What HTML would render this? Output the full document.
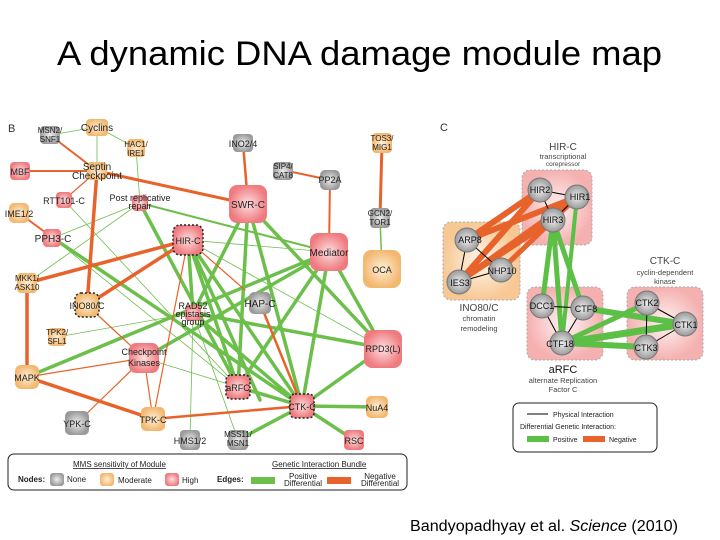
<!DOCTYPE html>
<html><head><meta charset="utf-8"><style>
html,body{margin:0;padding:0;background:#fff;width:720px;height:540px;overflow:hidden}
svg{display:block;font-family:"Liberation Sans",sans-serif}
</style></head><body>
<svg width="720" height="540" viewBox="0 0 720 540" xmlns="http://www.w3.org/2000/svg">
<defs>
<radialGradient id="gr"><stop offset="0" stop-color="#fde0e0"/><stop offset="1" stop-color="#ef7b80"/></radialGradient>
<radialGradient id="go"><stop offset="0" stop-color="#fdf0d8"/><stop offset="1" stop-color="#f3b870"/></radialGradient>
<radialGradient id="gg"><stop offset="0" stop-color="#eeeeee"/><stop offset="1" stop-color="#9a9a9a"/></radialGradient>
<radialGradient id="bp"><stop offset="0" stop-color="#fff4f4"/><stop offset="1" stop-color="#f5b0b0"/></radialGradient>
<radialGradient id="bo"><stop offset="0" stop-color="#fff8ee"/><stop offset="1" stop-color="#f7c894"/></radialGradient>
</defs>
<text x="57" y="65" font-size="34" textLength="605" lengthAdjust="spacingAndGlyphs" fill="#000">A dynamic DNA damage module map</text>
<text x="410" y="531" font-size="15.5" textLength="268" lengthAdjust="spacingAndGlyphs" fill="#000">Bandyopadhyay et al. <tspan font-style="italic">Science</tspan> (2010)</text>

<!-- Panel B edges -->
<g stroke-linecap="round" fill="none">
<g stroke="#6cbf4a" stroke-width="0.8">
<line x1="97" y1="127" x2="50" y2="135"/><line x1="97" y1="127" x2="136" y2="148"/><line x1="97" y1="127" x2="97" y2="171"/>
<line x1="136" y1="148" x2="140" y2="203"/><line x1="140" y1="203" x2="27" y2="283"/><line x1="140" y1="203" x2="53" y2="238"/>
<line x1="193" y1="313" x2="57" y2="337"/><line x1="193" y1="313" x2="190" y2="440"/><line x1="193" y1="313" x2="238" y2="440"/>
<line x1="188" y1="240" x2="383" y2="348"/><line x1="188" y1="240" x2="329" y2="252"/><line x1="144" y1="358" x2="238" y2="387"/>
<line x1="64" y1="200" x2="238" y2="387"/><line x1="53" y1="238" x2="238" y2="387"/>
<line x1="380" y1="218" x2="382" y2="269" stroke-width="1.5"/><line x1="248" y1="204" x2="383" y2="348"/>
</g>
<g stroke="#6cbf4a" stroke-width="3.5">
<line x1="140" y1="203" x2="238" y2="387"/><line x1="53" y1="238" x2="302" y2="406"/>
<line x1="140" y1="203" x2="329" y2="252" stroke-width="2"/>
<line x1="248" y1="204" x2="238" y2="387"/><line x1="248" y1="204" x2="302" y2="406"/><line x1="248" y1="204" x2="383" y2="348"/><line x1="248" y1="204" x2="193" y2="313"/>
<line x1="188" y1="240" x2="238" y2="387"/><line x1="188" y1="240" x2="302" y2="406"/><line x1="188" y1="240" x2="193" y2="313"/><line x1="188" y1="240" x2="260" y2="400"/>
<line x1="27" y1="377" x2="329" y2="252"/><line x1="144" y1="358" x2="329" y2="252"/>
<line x1="329" y1="252" x2="302" y2="406"/><line x1="329" y1="252" x2="238" y2="387"/><line x1="329" y1="252" x2="383" y2="348"/>
<line x1="383" y1="348" x2="302" y2="406"/><line x1="383" y1="348" x2="193" y2="313"/>
<line x1="302" y1="406" x2="377" y2="407"/><line x1="302" y1="406" x2="354" y2="440"/><line x1="302" y1="406" x2="238" y2="440"/><line x1="302" y1="406" x2="238" y2="387"/><line x1="302" y1="406" x2="193" y2="313"/>
</g>
<g stroke="#e8632c" stroke-width="1.2">
<line x1="50" y1="135" x2="97" y2="171" stroke-width="2"/><line x1="97" y1="171" x2="20" y2="171" stroke-width="2"/><line x1="97" y1="171" x2="64" y2="200"/>
<line x1="19" y1="213" x2="53" y2="238" stroke-width="2"/><line x1="87" y1="305" x2="144" y2="358"/>
<line x1="144" y1="358" x2="27" y2="377"/><line x1="144" y1="358" x2="77" y2="423"/><line x1="144" y1="358" x2="153" y2="419"/>
<line x1="153" y1="419" x2="188" y2="240"/><line x1="188" y1="240" x2="245" y2="290"/>
<line x1="283" y1="170" x2="330" y2="180" stroke-width="2"/><line x1="330" y1="180" x2="329" y2="252" stroke-width="2"/>
<line x1="243" y1="143" x2="248" y2="204" stroke-width="2.5"/><line x1="382" y1="143" x2="380" y2="218" stroke-width="3"/>
</g>
<g stroke="#e8632c" stroke-width="3.5">
<line x1="97" y1="171" x2="248" y2="204" stroke-width="3"/><line x1="97" y1="171" x2="87" y2="305"/>
<line x1="27" y1="283" x2="188" y2="240"/><line x1="87" y1="305" x2="188" y2="240"/><line x1="27" y1="283" x2="27" y2="377"/>
<line x1="27" y1="377" x2="153" y2="419"/><line x1="153" y1="419" x2="302" y2="406" stroke-width="2.5"/><line x1="260" y1="303" x2="302" y2="406" stroke-width="2.5"/>
</g>
</g>

<!-- Panel B nodes -->
<g font-size="9" text-anchor="middle" fill="#222">
<rect x="86" y="119" width="22" height="17" rx="4" fill="url(#go)"/><text x="97" y="131" font-size="10">Cyclins</text>
<rect x="40" y="126" width="20" height="18" rx="4" fill="url(#gg)"/><text x="50" y="133" font-size="8">MSN2/</text><text x="50" y="142" font-size="8">SNF1</text>
<rect x="127" y="139" width="18" height="18" rx="4" fill="url(#go)"/><text x="136" y="147" font-size="8">HAC1/</text><text x="136" y="156" font-size="8">IRE1</text>
<rect x="87" y="162" width="20" height="18" rx="4" fill="url(#go)"/><text x="97" y="170" font-size="10">Septin</text><text x="97" y="179" font-size="10">Checkpoint</text>
<rect x="10" y="162" width="20" height="18" rx="4" fill="url(#gr)"/><text x="20" y="175">MBF</text>
<rect x="56" y="192" width="16" height="16" rx="4" fill="url(#gr)"/><text x="64" y="204">RTT101-C</text>
<rect x="132" y="195" width="16" height="16" rx="4" fill="url(#gr)"/><text x="140" y="201">Post replicative</text><text x="140" y="209">repair</text>
<rect x="9" y="203" width="20" height="20" rx="5" fill="url(#go)"/><text x="19" y="217">IME1/2</text>
<rect x="43" y="229" width="18" height="18" rx="4" fill="url(#gr)"/><text x="53" y="242" font-size="10">PPH3-C</text>
<rect x="233" y="134" width="20" height="18" rx="4" fill="url(#gg)"/><text x="243" y="147">INO2/4</text>
<rect x="273" y="162" width="20" height="18" rx="4" fill="url(#gg)"/><text x="283" y="169" font-size="8">SIP4/</text><text x="283" y="178" font-size="8">CAT8</text>
<rect x="320" y="170" width="20" height="20" rx="5" fill="url(#gg)"/><text x="330" y="183">PP2A</text>
<rect x="372" y="133" width="20" height="20" rx="4" fill="url(#go)"/><text x="382" y="141" font-size="8">TOS3/</text><text x="382" y="150" font-size="8">MIG1</text>
<rect x="370" y="208" width="20" height="20" rx="4" fill="url(#gg)"/><text x="380" y="216" font-size="8">GCN2/</text><text x="380" y="225" font-size="8">TOR1</text>
<rect x="229" y="185" width="38" height="38" rx="8" fill="url(#gr)"/><text x="248" y="208" font-size="10">SWR-C</text>
<rect x="173" y="225" width="30" height="30" rx="7" fill="url(#gr)" stroke="#222" stroke-width="1.5" stroke-dasharray="2,2"/><text x="188" y="244">HIR-C</text>
<rect x="310" y="233" width="38" height="38" rx="8" fill="url(#gr)"/><text x="329" y="256" font-size="10">Mediator</text>
<rect x="363" y="250" width="38" height="38" rx="8" fill="url(#go)"/><text x="382" y="273">OCA</text>
<rect x="17" y="273" width="20" height="20" rx="4" fill="url(#go)"/><text x="27" y="281" font-size="8">MKK1/</text><text x="27" y="290" font-size="8">ASK10</text>
<rect x="75" y="293" width="24" height="24" rx="6" fill="url(#go)" stroke="#222" stroke-width="1.5" stroke-dasharray="2,2"/><text x="87" y="309">INO80/C</text>
<rect x="185" y="305" width="16" height="16" rx="4" fill="url(#gr)"/><text x="193" y="309">RAD52</text><text x="193" y="317">epistasis</text><text x="193" y="325">group</text>
<rect x="249" y="292" width="22" height="22" rx="5" fill="url(#gg)"/><text x="260" y="307" font-size="10">HAP-C</text>
<rect x="48" y="328" width="18" height="18" rx="4" fill="url(#go)"/><text x="57" y="335" font-size="8">TPK2/</text><text x="57" y="344" font-size="8">SFL1</text>
<rect x="364" y="330" width="38" height="38" rx="8" fill="url(#gr)"/><text x="383" y="352">RPD3(L)</text>
<rect x="129" y="343" width="30" height="30" rx="7" fill="url(#gr)"/><text x="144" y="355">Checkpoint</text><text x="144" y="366">Kinases</text>
<rect x="15" y="365" width="24" height="24" rx="6" fill="url(#go)"/><text x="27" y="381">MAPK</text>
<rect x="226" y="375" width="24" height="24" rx="5" fill="url(#gr)" stroke="#222" stroke-width="1.5" stroke-dasharray="2,2"/><text x="238" y="391">aRFC</text>
<rect x="290" y="394" width="24" height="24" rx="5" fill="url(#gr)" stroke="#222" stroke-width="1.5" stroke-dasharray="2,2"/><text x="302" y="410">CTK-C</text>
<rect x="366" y="396" width="22" height="22" rx="5" fill="url(#go)"/><text x="377" y="411">NuA4</text>
<rect x="65" y="411" width="24" height="24" rx="5" fill="url(#gg)"/><text x="77" y="427">YPK-C</text>
<rect x="141" y="407" width="24" height="24" rx="5" fill="url(#go)"/><text x="153" y="423">TPK-C</text>
<rect x="180" y="430" width="20" height="20" rx="4" fill="url(#gg)"/><text x="190" y="444">HMS1/2</text>
<rect x="228" y="430" width="20" height="20" rx="4" fill="url(#gg)"/><text x="238" y="437" font-size="8">MSS11/</text><text x="238" y="446" font-size="8">MSN1</text>
<rect x="344" y="430" width="20" height="20" rx="4" fill="url(#gr)"/><text x="354" y="444">RSC</text>
</g>
<text x="8" y="132" font-size="11" fill="#333">B</text>

<!-- Legend B -->
<rect x="8" y="454" width="399" height="36" rx="6" fill="#fff" stroke="#222" stroke-width="1"/>
<g font-size="8" fill="#222">
<text x="73" y="467" text-decoration="underline">MMS sensitivity of Module</text>
<text x="272" y="467" text-decoration="underline">Genetic Interaction Bundle</text>
<text x="18" y="482" font-weight="bold">Nodes:</text>
<rect x="50" y="473" width="14" height="13" rx="3" fill="url(#gg)"/><text x="67" y="482">None</text>
<rect x="100" y="473" width="14" height="13" rx="3" fill="url(#go)"/><text x="118" y="483">Moderate</text>
<rect x="165" y="473" width="14" height="13" rx="3" fill="url(#gr)"/><text x="182" y="483">High</text>
<text x="217" y="482" font-weight="bold">Edges:</text>
<rect x="251" y="477" width="24" height="7" fill="#6cbf4a"/><text x="303" y="479" text-anchor="middle">Positive</text><text x="303" y="486" text-anchor="middle">Differential</text>
<rect x="327" y="477" width="24" height="7" fill="#e8632c"/><text x="380" y="479" text-anchor="middle">Negative</text><text x="380" y="486" text-anchor="middle">Differential</text>
</g>

<!-- Panel C -->
<text x="440" y="131" font-size="11" fill="#333">C</text>
<rect x="522" y="170" width="70" height="75" rx="8" fill="url(#bp)" stroke="#aaa" stroke-dasharray="2,2"/>
<rect x="443" y="222" width="77" height="78" rx="8" fill="url(#bo)" stroke="#aaa" stroke-dasharray="2,2"/>
<rect x="527" y="287" width="76" height="73" rx="8" fill="url(#bp)" stroke="#aaa" stroke-dasharray="2,2"/>
<rect x="627" y="287" width="76" height="73" rx="8" fill="url(#bp)" stroke="#aaa" stroke-dasharray="2,2"/>
<g stroke="#e8632c" stroke-linecap="round">
<line x1="540" y1="190" x2="467" y2="240" stroke-width="6"/><line x1="540" y1="190" x2="459" y2="282" stroke-width="6"/>
<line x1="577" y1="197" x2="467" y2="240" stroke-width="6"/><line x1="577" y1="197" x2="459" y2="282" stroke-width="6"/><line x1="577" y1="197" x2="501" y2="270" stroke-width="5"/>
<line x1="553" y1="220" x2="459" y2="282" stroke-width="5"/><line x1="553" y1="220" x2="501" y2="270" stroke-width="5"/>
</g>
<g stroke="#5cbf46" stroke-linecap="round">
<line x1="553" y1="220" x2="542" y2="306" stroke-width="5"/><line x1="553" y1="220" x2="562" y2="343" stroke-width="5"/><line x1="553" y1="220" x2="583" y2="308" stroke-width="5"/>
<line x1="577" y1="197" x2="562" y2="343" stroke-width="4"/>
<line x1="583" y1="308" x2="685" y2="324" stroke-width="6"/><line x1="562" y1="343" x2="647" y2="303" stroke-width="5"/>
<line x1="562" y1="343" x2="685" y2="324" stroke-width="7"/><line x1="562" y1="343" x2="646" y2="347" stroke-width="6"/>
</g>
<g stroke="#000" stroke-width="1">
<line x1="540" y1="190" x2="577" y2="197"/><line x1="540" y1="190" x2="553" y2="220"/><line x1="577" y1="197" x2="553" y2="220"/>
<line x1="467" y1="240" x2="459" y2="282"/><line x1="467" y1="240" x2="501" y2="270"/><line x1="459" y1="282" x2="501" y2="270"/>
<line x1="542" y1="306" x2="583" y2="308"/><line x1="542" y1="306" x2="562" y2="343"/><line x1="583" y1="308" x2="562" y2="343"/>
<line x1="647" y1="303" x2="685" y2="324"/><line x1="647" y1="303" x2="646" y2="347"/><line x1="685" y1="324" x2="646" y2="347"/>
</g>
<g font-size="9" text-anchor="middle" fill="#111">
<g fill="url(#gg)" stroke="#777">
<circle cx="540" cy="190" r="12"/><circle cx="577" cy="197" r="12"/><circle cx="553" cy="220" r="12"/>
<circle cx="467" cy="240" r="12"/><circle cx="459" cy="282" r="12"/><circle cx="501" cy="270" r="12"/>
<circle cx="542" cy="306" r="12"/><circle cx="583" cy="308" r="12"/><circle cx="562" cy="343" r="12"/>
<circle cx="647" cy="303" r="12"/><circle cx="685" cy="324" r="12"/><circle cx="646" cy="347" r="12"/>
</g>
<text x="540" y="193">HIR2</text><text x="580" y="200">HIR1</text><text x="553" y="223">HIR3</text>
<text x="470" y="243">ARP8</text><text x="460" y="286">IES3</text><text x="502" y="274">NHP10</text>
<text x="542" y="309">DCC1</text><text x="586" y="312">CTF8</text><text x="560" y="347">CTF18</text>
<text x="647" y="306">CTK2</text><text x="686" y="328">CTK1</text><text x="646" y="351">CTK3</text>
<g fill="#444">
<text x="563" y="150" font-size="10">HIR-C</text><text x="563" y="159" font-size="7.5">transcriptional</text><text x="563" y="166" font-size="6.5">corepressor</text>
<text x="479" y="311" font-size="10">INO80/C</text><text x="479" y="321" font-size="7.5">chromatin</text><text x="479" y="331" font-size="7.5">remodeling</text>
<text x="563" y="373" font-size="11" fill="#111">aRFC</text><text x="563" y="383" font-size="7.5">alternate Replication</text><text x="563" y="392" font-size="7.5">Factor C</text>
<text x="665" y="264" font-size="10">CTK-C</text><text x="665" y="275" font-size="7.5">cyclin-dependent</text><text x="665" y="284" font-size="7.5">kinase</text>
</g>
</g>
<rect x="513" y="403" width="144" height="49" rx="6" fill="#fff" stroke="#222"/>
<g font-size="7" fill="#222">
<line x1="527" y1="414" x2="548" y2="414" stroke="#000" stroke-width="1"/><text x="553" y="417">Physical Interaction</text>
<text x="520" y="429">Differential Genetic Interaction:</text>
<rect x="527" y="436" width="22" height="6" fill="#5cbf46"/><text x="553" y="442">Positive</text>
<rect x="583" y="436" width="22" height="6" fill="#e8632c"/><text x="609" y="442">Negative</text>
</g>
</svg>
</body></html>
